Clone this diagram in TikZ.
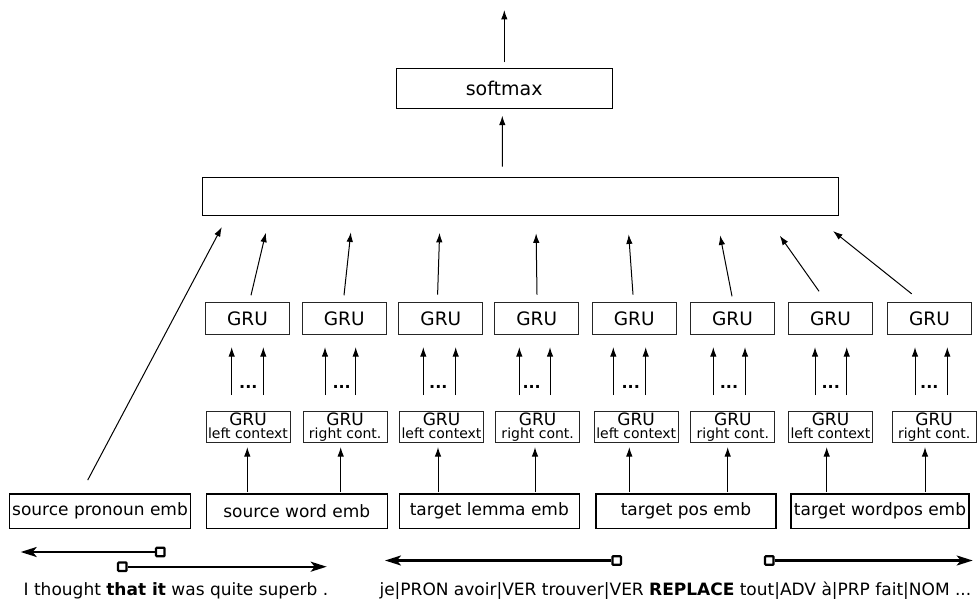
\documentclass[tikz,border=0pt]{standalone}
\usepackage{fontspec}
\setmainfont{DejaVu Sans}
\usetikzlibrary{arrows.meta,calc}
\begin{document}
\begin{tikzpicture}[x=1pt,y=-1pt,
  box/.style={draw, line width=1pt, inner sep=0pt},
  gbox/.style={draw=black!85, line width=0.9pt, inner sep=0pt, minimum width=84pt, minimum height=31.6pt},
  arr/.style={-{Latex[length=9.5pt,width=6.5pt]}, line width=1pt},
  bigarr/.style={-{Stealth[length=16pt,width=10pt,inset=4pt]}, line width=2.2pt},
  sq/.style={draw, line width=2.2pt, fill=white, minimum size=8.5pt, inner sep=0pt, rounded corners=0.8pt},
  embfont/.style={font=\fontsize{17}{20}\selectfont},
]
\useasboundingbox (0,0) rectangle (977,599);

% top boxes
\node[box, line width=1.1pt, minimum width=216pt, minimum height=39.7pt, font=\fontsize{19}{22}\selectfont] (soft) at (504.2,88.8) {softmax};
\node[box, line width=1.8pt, minimum width=636pt, minimum height=38pt] (big) at (520.4,196.5) {};
\coordinate (outtip) at (504.3,10);
\draw[arr] ($(soft.north)+(0.1,-6)$) -- (outtip);
\draw[arr] ($(big.north)+(-18.1,-10)$) -- ($(soft.south)+(-1.9,6.5)$);

% upper GRU boxes
\foreach \i/\x in {1/247.5,2/344.2,3/440.8,4/536.7,5/634.2,6/732.5,7/830.5,8/929.5}
  \node[gbox, font=\fontsize{18.5}{20}\selectfont] (u\i) at (\x,318.5) {GRU};

% lower GRU boxes
\foreach \i/\x/\t in {1/248/left context,2/345.2/right cont.,3/441.5/left context,4/537.7/right cont.,5/636.2/left context,6/732.9/right cont.,7/830.5/left context,8/934.2/right cont.}
  \node[gbox, minimum height=31.7pt, align=center, font=\fontsize{14}{12.8}\selectfont] (l\i) at (\x,426.8) {{\fontsize{17}{12.8}\selectfont GRU}\\\t\vphantom{g}};

% embedding boxes
\node[box, line width=1.1pt, embfont, minimum width=181.4pt, minimum height=34.7pt] (e1) at (100,511.3) {source pronoun emb};
\node[box, line width=1.1pt, embfont, minimum width=181.3pt, minimum height=34.7pt] (e2) at (296.7,511.3) {source word emb};
\node[box, line width=1.1pt, embfont, minimum width=180pt, minimum height=34.7pt] (e3) at (489.3,511.3) {target lemma emb};
\node[box, line width=1.1pt, embfont, minimum width=180pt, minimum height=34.7pt] (e4) at (686,511.3) {target pos emb};
\node[box, line width=1.1pt, embfont, minimum width=178pt, minimum height=34.7pt] (e5) at (880,511.3) {target wordpos emb};

% arrows upper GRU -> big box
\foreach \i/\dx/\sy/\tx/\ty in {1/3.5/7/64.3/16.3,2/-0.2/7/149.3/16,3/-3.2/7.7/238.1/16.5,4/0.3/7.7/334.6/17,5/-1.2/7.7/427.2/18,6/-0.5/6/518.6/19,7/-11.5/11/578.3/19.3,8/-17.8/8.4/631.6/14.7}
  \draw[arr] ($(u\i.north)+(\dx,-\sy)$) -- ($(big.south west)+(\tx,\ty)$);
% pronoun arrow
\draw[arr] ($(e1.north)+(-12.3,-13.3)$) -- ($(big.south west)+(20.3,10.7)$);

% pair arrows lower -> upper (\d = lower centre - upper centre)
\foreach \i/\a/\b/\d in {1/-16.3/15.3/0.5,2/-20.2/10.5/1,3/-18.2/14.2/0.7,4/-18.4/12.3/1,5/-22.9/9.5/2,6/-19.6/12.1/0.4,7/-15.5/16.2/0,8/-19.2/13.1/4.7}{
  \draw[arr] ($(l\i.north)+(\a,-15.5)$) -- ($(u\i.south)+(\a+\d,12.4)$);
  \draw[arr] ($(l\i.north)+(\b,-15.5)$) -- ($(u\i.south)+(\b+\d,12.4)$);
}
% dots
\foreach \i/\x in {1/248.3,2/341.7,3/438.3,4/531.7,5/630.7,6/729,7/830.7,8/929.3}
  \node[anchor=base, inner sep=0pt, font=\fontsize{16}{18}\bfseries] (d\i) at (\x,388) {...};

% arrows embeddings -> lower GRU
\foreach \i/\dx in {1/-0.7,2/-4.5,3/-3.5,4/-2.7,5/-6.9,6/-5.2,7/-3.8,8/-9.2}
  \draw[arr] ($(l\i.south)+(\dx,49)$) -- ($(l\i.south)+(\dx,4)$);

% bottom direction arrows
\node[sq] (sq1) at (160.3,552) {};
\node[sq] (sq2) at (122.3,566.7) {};
\node[sq] (sq3) at (616.7,560.5) {};
\node[sq] (sq4) at (769.3,560.5) {};
\coordinate (t1) at (20.7,552);
\coordinate (t2) at (326.7,566.7);
\coordinate (t3) at (385,560.5);
\coordinate (t4) at (972.7,560.5);
\draw[bigarr] (sq1.west) -- (t1);
\draw[bigarr] (sq2.east) -- (t2);
\draw[bigarr] (sq3.west) -- (t3);
\draw[bigarr] (sq4.east) -- (t4);

% sentences
\node[anchor=base, inner sep=0pt, font=\fontsize{17}{20}\selectfont] (src) at (176,595) {I thought \textbf{that it} was quite superb .};
\node[anchor=base, inner sep=0pt, font=\fontsize{17}{20}\selectfont] (tgt) at (675.4,595) {je|PRON avoir|VER trouver|VER \textbf{REPLACE} tout|ADV à|PRP fait|NOM ...};
\end{tikzpicture}
\end{document}
